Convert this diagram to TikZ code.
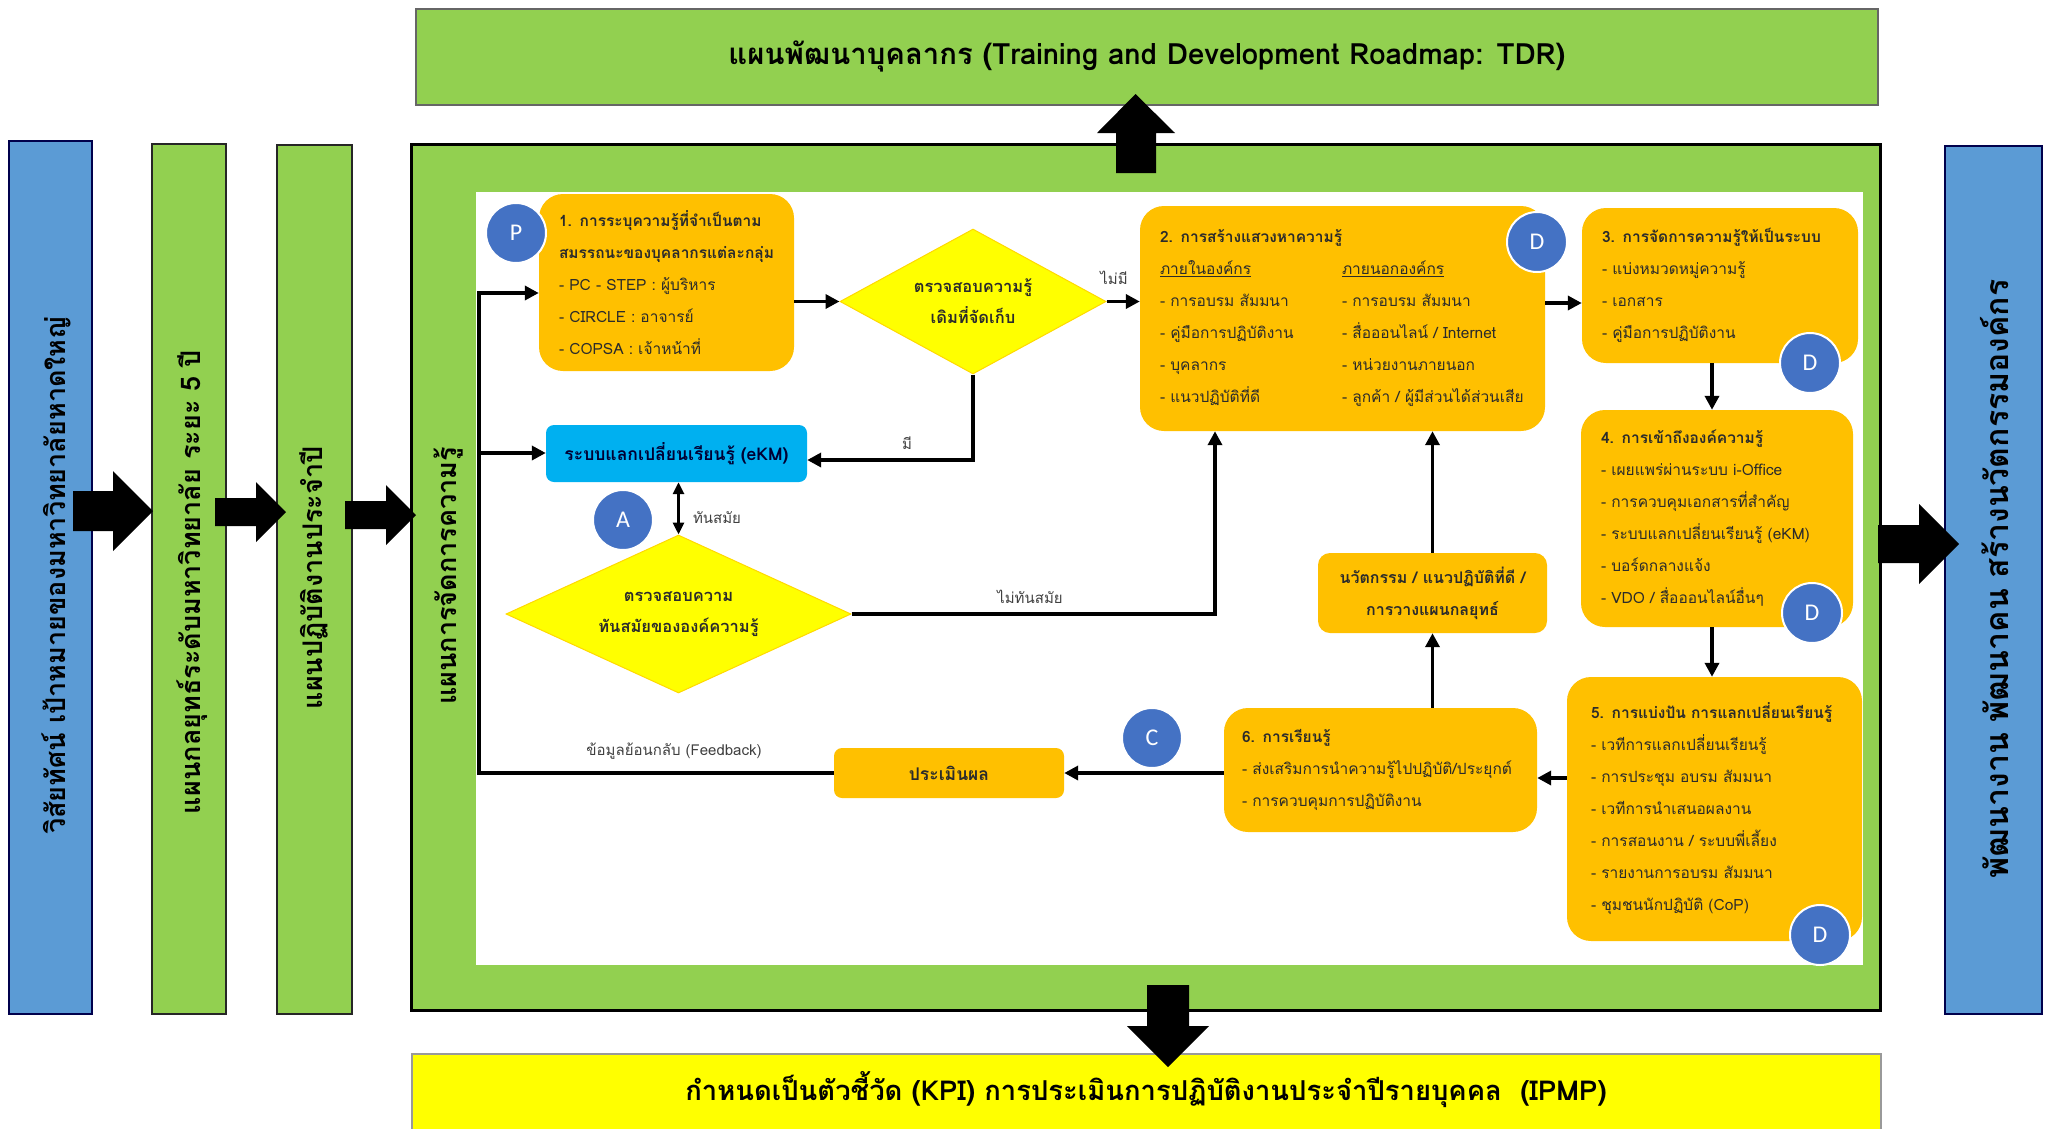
\documentclass[tikz,border=0pt]{standalone}
\usepackage{fontspec}
\newfontfamily\thai[Script=Thai]{Loma}
\newfontfamily\lat{Carlito}
\usetikzlibrary{arrows.meta,shapes.geometric,calc}
\definecolor{barblue}{HTML}{5B9BD5}
\definecolor{bargreen}{HTML}{92D050}
\definecolor{kyellow}{HTML}{FFFF00}
\definecolor{korange}{HTML}{FFC000}
\definecolor{kcyan}{HTML}{00B0F0}
\definecolor{kcirc}{HTML}{4472C4}
\definecolor{kdark}{HTML}{2B2B2B}
\definecolor{klabel}{HTML}{404040}
\begin{document}
\begin{tikzpicture}[x=1pt,y=-1pt,
  outer/.style={draw=black!85,line width=1.5pt,inner sep=0pt},
  bartext/.style={rotate=90,text=black,font=\thai\bfseries\fontsize{27}{30}\selectfont},
  kbox/.style={fill=korange,rounded corners=24pt,inner xsep=20pt,inner ysep=0pt,align=left,
     text=kdark,font=\thai\fontsize{15.5}{32}\selectfont},
  cbox/.style={fill=korange,rounded corners=12pt,inner sep=0pt,align=center,
     text=kdark,font=\thai\bfseries\fontsize{16}{32}\selectfont},
  dia/.style={diamond,fill=kyellow,draw=kyellow!70!orange,line width=1pt,inner sep=0pt,align=center,
     text=kdark,font=\thai\bfseries\fontsize{16.5}{31}\selectfont},
  badge/.style={circle,fill=kcirc,draw=white,line width=2pt,minimum size=60pt,inner sep=0pt,
     text=white,font=\lat\fontsize{24}{24}\selectfont},
  conn/.style={line width=3.5pt,draw=black},
  tip/.style={-{Triangle[length=14pt,width=14pt]}},
  lbl/.style={text=klabel,font=\thai\fontsize{15}{16}\selectfont,inner sep=0pt},
  block/.style={fill=black}
]
\useasboundingbox (0,0) rectangle (2051,1128);

% ---- outer frame elements
\node[outer,fill=barblue,draw=black!70!blue,minimum width=83pt,minimum height=873pt] (vis) at (50.5,577.5) {};
\node[bartext] (vist) at (56,575) {วิสัยทัศน์ เป้าหมายของมหาวิทยาลัยหาดใหญ่};
\node[outer,fill=bargreen,minimum width=74pt,minimum height=870pt] (strat) at (189,579) {};
\node[bartext] (stratt) at (192,582) {แผนกลยุทธ์ระดับมหาวิทยาลัย ระยะ 5 ปี};
\node[outer,fill=bargreen,minimum width=75pt,minimum height=869pt] (plan) at (314.5,579.5) {};
\node[bartext] (plant) at (314,578) {แผนปฏิบัติงานประจำปี};
\node[outer,fill=bargreen,line width=3pt,draw=black,minimum width=1469pt,minimum height=866pt] (main) at (1145.5,577) {};
\node[fill=white,minimum width=1387pt,minimum height=773pt,inner sep=0pt] (inner) at (1169.5,578.5) {};
\node[bartext] (maint) at (449,576) {แผนการจัดการความรู้};
\node[outer,fill=bargreen,draw=black!60,minimum width=1462pt,minimum height=96pt] (tdr) at (1147,57) {};
\node[font=\thai\bfseries\fontsize{29.3}{32}\selectfont] (tdrt) at (1147,56) {แผนพัฒนาบุคลากร (Training and Development Roadmap: TDR)};
\node[outer,fill=kyellow,draw=black!40,minimum width=1469pt,minimum height=80pt] (kpi) at (1146.5,1094) {};
\node[font=\thai\bfseries\fontsize{27.4}{30}\selectfont] (kpit) at (1146,1090) {กำหนดเป็นตัวชี้วัด (KPI) การประเมินการปฏิบัติงานประจำปีรายบุคคล~~(IPMP)};
\node[outer,fill=barblue,draw=black!70!blue,minimum width=97pt,minimum height=868pt] (res) at (1993.5,580) {};
\node[bartext,font=\thai\bfseries\fontsize{32}{34}\selectfont] (rest) at (1995,579) {พัฒนางาน พัฒนาคน สร้างนวัตกรรมองค์กร};

% ---- inner flow
\node[kbox,minimum width=255pt,minimum height=177pt,text width=215pt] (box1) at (666.5,282.5) {%
\textbf{1. การระบุความรู้ที่จำเป็นตาม}\\
\textbf{สมรรถนะของบุคลากรแต่ละกลุ่ม}\\
- PC - STEP : ผู้บริหาร\\
- CIRCLE : อาจารย์\\
- COPSA : เจ้าหน้าที่};
\node[dia,aspect=1.83,minimum width=266pt,minimum height=145pt] (d1) at (973,301.5) {ตรวจสอบความรู้\\เดิมที่จัดเก็บ};
\node[kbox,minimum width=405pt,minimum height=225pt,text width=365pt] (box2) at (1342.5,318.5) {%
\textbf{2. การสร้างแสวงหาความรู้}\\
\makebox[182pt][l]{\underline{ภายในองค์กร}}\underline{ภายนอกองค์กร}\\
\makebox[182pt][l]{- การอบรม สัมมนา}- การอบรม สัมมนา\\
\makebox[182pt][l]{- คู่มือการปฏิบัติงาน}- สื่อออนไลน์ / Internet\\
\makebox[182pt][l]{- บุคลากร}- หน่วยงานภายนอก\\
\makebox[182pt][l]{- แนวปฏิบัติที่ดี}- ลูกค้า / ผู้มีส่วนได้ส่วนเสีย};
\node[kbox,minimum width=276pt,minimum height=155pt,text width=236pt] (box3) at (1720,285.5) {%
\textbf{3. การจัดการความรู้ให้เป็นระบบ}\\
- แบ่งหมวดหมู่ความรู้\\
- เอกสาร\\
- คู่มือการปฏิบัติงาน};
\node[kbox,minimum width=272pt,minimum height=217pt,text width=232pt] (box4) at (1717,518.5) {%
\textbf{4. การเข้าถึงองค์ความรู้}\\
- เผยแพร่ผ่านระบบ i-Office\\
- การควบคุมเอกสารที่สำคัญ\\
- ระบบแลกเปลี่ยนเรียนรู้ (eKM)\\
- บอร์ดกลางแจ้ง\\
- VDO / สื่อออนไลน์อื่นๆ};
\node[kbox,minimum width=287pt,minimum height=264pt,text width=247pt,inner xsep=24pt] (box5) at (1714.5,809) {%
\textbf{5. การแบ่งปัน การแลกเปลี่ยนเรียนรู้}\\
- เวทีการแลกเปลี่ยนเรียนรู้\\
- การประชุม อบรม สัมมนา\\
- เวทีการนำเสนอผลงาน\\
- การสอนงาน / ระบบพี่เลี้ยง\\
- รายงานการอบรม สัมมนา\\
- ชุมชนนักปฏิบัติ (CoP)};
\node[kbox,minimum width=313pt,minimum height=124pt,text width=277pt,inner xsep=18pt] (box6) at (1380.5,770) {%
\textbf{6. การเรียนรู้}\\
- ส่งเสริมการนำความรู้ไปปฏิบัติ/ประยุกต์\\
- การควบคุมการปฏิบัติงาน};
\node[cbox,minimum width=229pt,minimum height=80pt] (innov) at (1432.5,593) {นวัตกรรม / แนวปฏิบัติที่ดี /\\การวางแผนกลยุทธ์};
\node[cbox,rounded corners=8pt,minimum width=230pt,minimum height=50pt,font=\thai\bfseries\fontsize{17.5}{20}\selectfont] (eval) at (949,773) {ประเมินผล};
\node[cbox,fill=kcyan,rounded corners=8pt,text=black!80!blue,minimum width=261pt,minimum height=57pt,font=\thai\bfseries\fontsize{17.5}{20}\selectfont] (ekm) at (676.5,453.5) {ระบบแลกเปลี่ยนเรียนรู้ (eKM)};
\node[dia,aspect=2.18,minimum width=345pt,minimum height=158pt] (d2) at (678.5,614) {ตรวจสอบความ\\ทันสมัยขององค์ความรู้};

% ---- badges
\node[badge] (bp) at (516,233) {P};
\node[badge] (bd2) at (1537,242) {D};
\node[badge] (bd3) at (1810,363) {D};
\node[badge] (bd4) at (1812,613) {D};
\node[badge] (bd5) at (1820,935) {D};
\node[badge] (ba) at (623,520) {A};
\node[badge] (bc) at (1152,738) {C};

% ---- helper coordinates
\coordinate (lx) at (479,0);
\coordinate (y293) at (0,293);
\coordinate (y460) at (0,460);
\coordinate (y303) at (0,303);
\coordinate (y778) at (0,778);
\coordinate (x215) at (1215,0);
\coordinate (x1712) at (1712,0);
\coordinate (jn) at (479,453);

% ---- connectors
\draw[conn,tip] (eval.west) -- (eval.west -| lx) -- (y293 -| lx) -- (box1.west |- y293);
\draw[conn,tip] (jn) -- (ekm.west |- jn);
\draw[conn,tip] (box1.east |- d1.west) -- (d1.west);
\draw[conn,tip] (d1.east) -- (box2.west |- d1.east);
\node[lbl] (lnomi) at (1114,278) {ไม่มี};
\draw[conn,tip] (d1.south) -- (d1.south |- y460) -- (ekm.east |- y460);
\node[lbl] (lmi) at (907,443) {มี};
\draw[line width=3pt,{Triangle[length=12pt,width=11pt]}-{Triangle[length=12pt,width=11pt]}] (d2.north |- ekm.south) -- (d2.north);
\node[lbl] (lup) at (717,518) {ทันสมัย};
\draw[conn,tip] (d2.east) -- (d2.east -| x215) -- (box2.south -| x215);
\node[lbl] (lnotup) at (1030,597) {ไม่ทันสมัย};
\draw[conn,tip] (innov.north) -- (innov.north |- box2.south);
\draw[conn,tip] (box6.north -| innov.south) -- (innov.south);
\draw[conn,tip] (box2.east |- y303) -- (box3.west |- y303);
\draw[conn,tip] (box3.south -| x1712) -- (box4.north -| x1712);
\draw[conn,tip] (box4.south -| x1712) -- (box5.north -| x1712);
\draw[conn,tip] (box5.west |- y778) -- (box6.east |- y778);
\draw[conn,tip] (box6.west |- eval.east) -- (eval.east);
\node[lbl] (lfb) at (674,751) {ข้อมูลย้อนกลับ (Feedback)};

% ---- block arrows
\fill[block] (73,491) -- (113,491) -- (113,471) -- (153,511) -- (113,551) -- (113,531) -- (73,531) -- cycle;
\fill[block] (215,498) -- (256,498) -- (256,482) -- (286,512) -- (256,542) -- (256,526) -- (215,526) -- cycle;
\fill[block] (345,501) -- (386,501) -- (386,485) -- (416,515) -- (386,545) -- (386,529) -- (345,529) -- cycle;
\fill[block] (1878,525) -- (1919,525) -- (1919,504) -- (1959,544) -- (1919,584) -- (1919,563) -- (1878,563) -- cycle;
\fill[block] (1116,173) -- (1116,133) -- (1097,133) -- (1135.5,94) -- (1175,133) -- (1156,133) -- (1156,173) -- cycle;
\fill[block] (1147,985) -- (1147,1026) -- (1127,1026) -- (1168,1067) -- (1209,1026) -- (1189,1026) -- (1189,985) -- cycle;
\end{tikzpicture}
\end{document}
